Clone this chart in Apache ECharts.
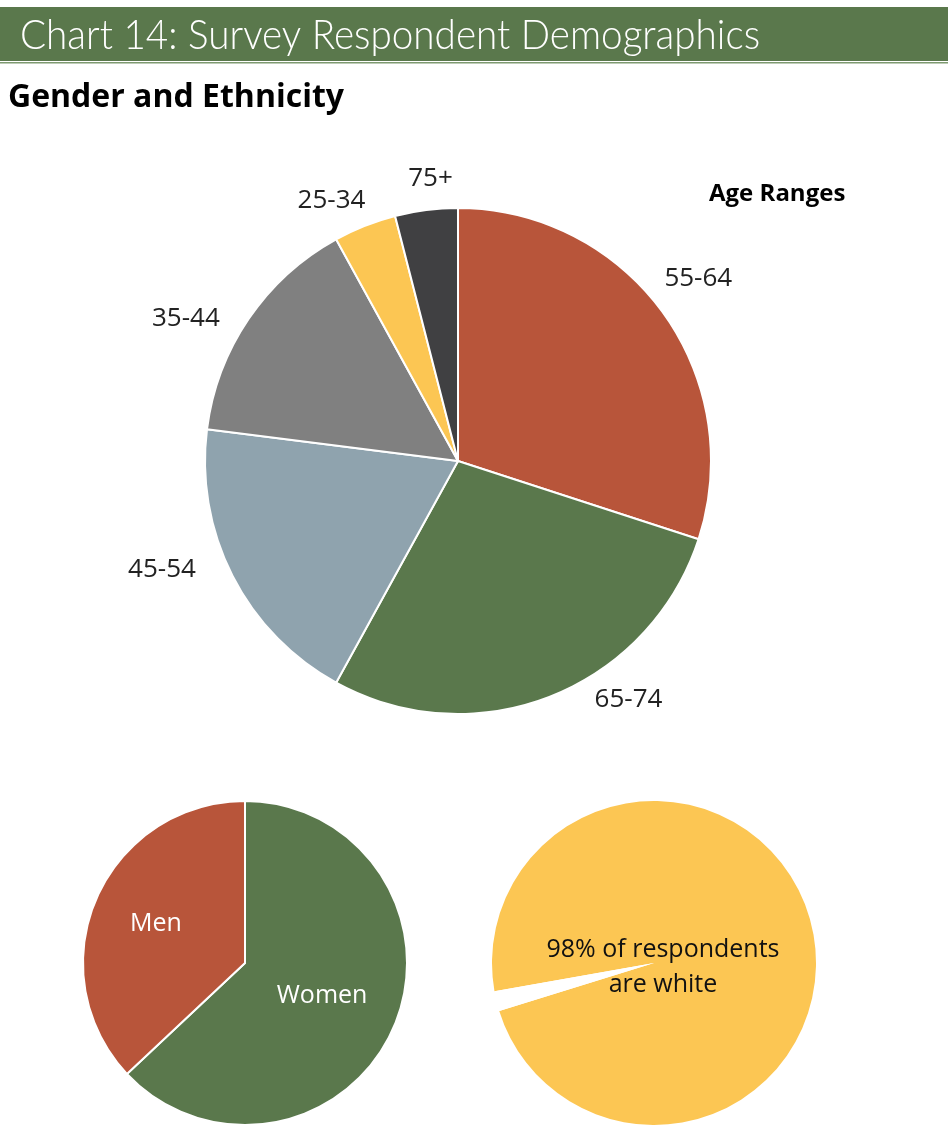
<!DOCTYPE html>
<html>
<head>
<meta charset="utf-8">
<script src="https://cdn.jsdelivr.net/npm/echarts@6/dist/echarts.min.js"></script>
<style>
html,body{margin:0;padding:0;background:#fff;}
#chart{width:948px;height:1129px;}
</style>
</head>
<body>
<div id="chart"></div>
<script>
const ageCategories = ['55-64', '65-74', '45-54', '35-44', '25-34', '75+'];
const ageValues = [30, 28, 19, 15, 4, 4];
const genderCategories = ['Women', 'Men'];
const genderValues = [63, 37];
const ethnicityCategories = ['White', 'Non-white'];
const ethnicityValues = [98, 2];

const ageColors = ['#B8553A', '#5A784C', '#8FA3AE', '#808080', '#FCC653', '#404042'];
const genderColors = ['#5A784C', '#B8553A'];
const ethnicityColors = ['#FCC653', '#FFFFFF'];
// label nudges (styling), mimicking the original's label placement
const ageLabelNudge = [[-13, -27], [34, -8], [-21, -12], [-14, 7], [10, -14], [33, -19]];

const chart = echarts.init(document.getElementById('chart'), null, {renderer: 'canvas'});

const option = {
  backgroundColor: '#fff',
  animation: false,
  title: [{
    text: 'Age Ranges',
    left: 704, top: 177,
    textStyle: {fontFamily: 'Open Sans', fontWeight: 'bold', fontSize: 24, color: '#000'}
  }],
  graphic: [
    {type: 'rect', shape: {x: 0, y: 7, width: 948, height: 54}, style: {fill: '#5A784C'}},
    {type: 'rect', shape: {x: 0, y: 62, width: 948, height: 1.5}, style: {fill: '#7E9A70'}},
    {type: 'text', x: 20, y: 35, scaleX: 0.92,
      style: {text: 'Chart 14: Survey Respondent Demographics', fill: '#fff',
        font: '300 42px Lato', verticalAlign: 'middle', align: 'left'}},
    {type: 'text', left: 8, top: 82,
      style: {text: 'Gender and Ethnicity', fill: '#000',
        font: 'bold 32px "Open Sans"'}}
  ],
  series: [
    {
      type: 'pie',
      center: [458, 461],
      radius: 253,
      startAngle: 90,
      clockwise: true,
      avoidLabelOverlap: false,
      itemStyle: {borderColor: '#fff', borderWidth: 2},
      label: {show: true, position: 'outside', fontFamily: 'Open Sans', fontSize: 26, color: '#222'},
      labelLine: {show: false, length: 12, length2: 0},
      emphasis: {disabled: true},
      data: ageCategories.map((c, i) => ({
        name: c, value: ageValues[i], itemStyle: {color: ageColors[i]},
        label: {offset: ageLabelNudge[i]}
      }))
    },
    {
      type: 'pie',
      center: [245, 963],
      radius: 162,
      startAngle: 90,
      clockwise: true,
      itemStyle: {borderColor: '#fff', borderWidth: 2},
      label: {show: true, position: 'inside', fontFamily: 'Open Sans', fontSize: 25, color: '#fff'},
      labelLine: {show: false},
      emphasis: {disabled: true},
      data: genderCategories.map((c, i) => ({
        name: c, value: genderValues[i], itemStyle: {color: genderColors[i]},
        label: i === 1 ? {offset: [-12, -6]} : {}
      }))
    },
    {
      type: 'pie',
      center: [654, 963],
      radius: 162,
      startAngle: -170,
      clockwise: true,
      itemStyle: {borderWidth: 0},
      label: {show: false},
      labelLine: {show: false},
      emphasis: {disabled: true},
      data: ethnicityCategories.map((c, i) => ({
        name: c, value: ethnicityValues[i], itemStyle: {color: ethnicityColors[i]},
        label: i === 0 ? {show: true, position: 'center', formatter: '98% of respondents\nare white',
          fontFamily: 'Open Sans', fontSize: 25, color: '#111', lineHeight: 35, offset: [9, 4]} : {show: false}
      }))
    }
  ]
};
chart.setOption(option);
</script>
</body>
</html>
